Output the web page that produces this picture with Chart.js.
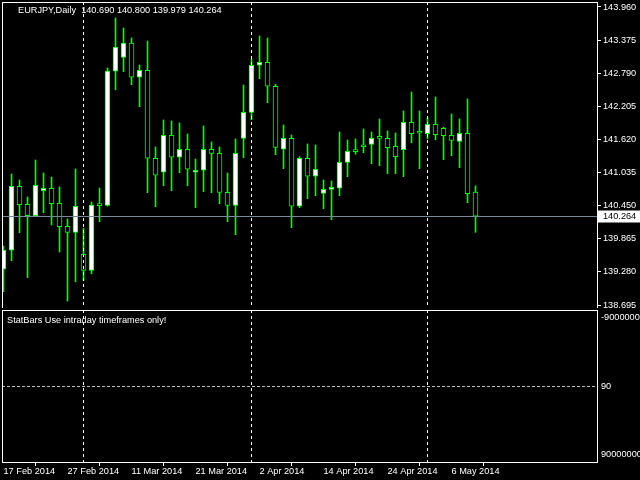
<!DOCTYPE html>
<html lang="en">
  <head>
    <meta charset="UTF-8" />
    <title>EURJPY,Daily</title>
    <script src="https://cdn.jsdelivr.net/npm/chart.js"></script>
    <style>
      * {
        margin: 0;
        padding: 0;
        box-sizing: border-box;
      }
      body {
        background: #000;
        width: 640px;
        height: 480px;
        overflow: hidden;
        position: relative;
      }
      #priceChart {
        position: absolute;
        left: 0;
        top: 0;
      }
      #subChart {
        position: absolute;
        left: 0;
        top: 308px;
      }
    </style>
  </head>
  <body>
    <canvas id="priceChart" width="640" height="310"></canvas>
    <canvas id="subChart" width="640" height="172"></canvas>

    <script>
      // daily bars, 17 Feb 2014 .. 9 May 2014
      const dates = [
        "17 Feb 2014", "18 Feb 2014", "19 Feb 2014", "20 Feb 2014", "21 Feb 2014",
        "24 Feb 2014", "25 Feb 2014", "26 Feb 2014", "27 Feb 2014", "28 Feb 2014",
        "3 Mar 2014", "4 Mar 2014", "5 Mar 2014", "6 Mar 2014", "7 Mar 2014",
        "10 Mar 2014", "11 Mar 2014", "12 Mar 2014", "13 Mar 2014", "14 Mar 2014",
        "17 Mar 2014", "18 Mar 2014", "19 Mar 2014", "20 Mar 2014", "21 Mar 2014",
        "24 Mar 2014", "25 Mar 2014", "26 Mar 2014", "27 Mar 2014", "28 Mar 2014",
        "31 Mar 2014", "1 Apr 2014", "2 Apr 2014", "3 Apr 2014", "4 Apr 2014",
        "7 Apr 2014", "8 Apr 2014", "9 Apr 2014", "10 Apr 2014", "11 Apr 2014",
        "14 Apr 2014", "15 Apr 2014", "16 Apr 2014", "17 Apr 2014", "18 Apr 2014",
        "21 Apr 2014", "22 Apr 2014", "23 Apr 2014", "24 Apr 2014", "25 Apr 2014",
        "28 Apr 2014", "29 Apr 2014", "30 Apr 2014", "1 May 2014", "2 May 2014",
        "5 May 2014", "6 May 2014", "7 May 2014", "8 May 2014", "9 May 2014",
      ];
      const opens = [
        139.326, 139.662, 140.792, 140.474, 140.273, 140.714, 140.757, 140.492, 140.085, 139.979,
        139.591, 139.308, 140.456, 140.456, 142.824, 143.071, 143.324, 142.718, 142.842, 141.287,
        141.040, 141.693, 141.305, 141.446, 141.040, 141.075, 141.446, 141.375, 140.686, 140.453,
        141.637, 142.096, 142.930, 142.983, 142.559, 141.446, 141.640, 140.439, 141.287, 140.969,
        140.668, 140.739, 140.757, 141.216, 141.407, 141.492, 141.534, 141.640, 141.640, 141.499,
        141.439, 141.923, 141.729, 141.721, 141.888, 141.817, 141.693, 141.587, 141.729, 140.690,
      ];
      const highs = [
        139.737, 141.009, 140.903, 140.603, 141.257, 141.027, 140.956, 140.780, 140.214, 141.098,
        140.050, 140.515, 140.762, 142.882, 143.766, 143.589, 143.412, 142.935, 143.359, 141.487,
        141.964, 141.946, 141.911, 141.716, 141.274, 141.858, 141.575, 141.487, 141.027, 141.628,
        142.582, 143.036, 143.448, 143.412, 142.596, 141.875, 141.699, 141.315, 141.540, 141.522,
        140.903, 140.886, 141.752, 141.610, 141.628, 141.805, 141.752, 141.981, 141.769, 141.734,
        142.123, 142.458, 142.123, 141.999, 142.370, 141.835, 142.070, 141.981, 142.335, 140.800,
      ];
      const lows = [
        138.930, 139.478, 139.972, 139.177, 140.260, 140.326, 140.108, 139.631, 138.766, 139.107,
        139.124, 139.248, 140.167, 140.440, 142.499, 142.817, 142.587, 142.199, 140.679, 140.432,
        140.803, 140.714, 141.032, 140.803, 140.414, 140.697, 140.679, 140.485, 140.167, 139.937,
        141.297, 141.969, 142.693, 142.269, 141.350, 141.103, 140.061, 140.414, 140.573, 140.626,
        140.396, 140.202, 140.626, 140.962, 141.358, 141.386, 141.191, 141.156, 141.015, 141.015,
        140.962, 141.563, 141.103, 141.633, 141.615, 141.262, 141.333, 141.121, 140.502, 139.979,
      ];
      const closes = [
        139.667, 140.792, 140.467, 140.273, 140.810, 140.757, 140.485, 140.078, 139.979, 140.439,
        139.308, 140.462, 140.452, 142.829, 143.253, 143.324, 142.718, 142.842, 141.287, 140.987,
        141.693, 141.305, 141.446, 141.093, 141.075, 141.446, 141.375, 140.686, 140.456, 141.375,
        142.100, 142.930, 142.983, 142.559, 141.478, 141.640, 140.439, 141.287, 140.969, 141.093,
        140.739, 140.774, 141.216, 141.411, 141.405, 141.490, 141.640, 141.640, 141.474, 141.315,
        141.923, 141.721, 141.729, 141.888, 141.704, 141.686, 141.601, 141.729, 140.661, 140.264,
      ];
      const priceTicks = [143.96, 143.375, 142.79, 142.205, 141.62, 141.035, 140.45, 139.865, 139.28, 138.695];
      const separatorDays = ["3 Mar 2014", "1 Apr 2014", "1 May 2014"];
      const subAxisLabels = ["-9000000", "90", "90000000"];
      const symbolTitle = "EURJPY,Daily";
      const subTitle = "StatBars Use intraday timeframes only!";

      const FONT = "'Liberation Sans', Arial, sans-serif";
      const FONT_SIZE = 9.2;
      Chart.defaults.font.family = FONT;
      Chart.defaults.font.size = FONT_SIZE;
      Chart.defaults.color = "#fff";

      const last = closes.length - 1;
      const xRange = { min: -0.1875, max: 74.1875 };

      const wickData = dates.map((d, i) => ({ x: i, y: [lows[i], highs[i]] }));
      const bodyData = dates.map((d, i) => ({ x: i, y: [opens[i], closes[i]] }));
      const bodyFill = dates.map((d, i) => (closes[i] > opens[i] ? "#fff" : "#000"));

      function noAxisPadding(s) {
        s.paddingTop = 0;
        s.paddingBottom = 0;
        s.paddingLeft = 0;
        s.paddingRight = 0;
      }

      function drawSeparators(chart) {
        const { ctx, chartArea: a, scales } = chart;
        ctx.save();
        ctx.strokeStyle = "#fff";
        ctx.lineWidth = 1;
        ctx.setLineDash([3, 3]);
        separatorDays.forEach((d) => {
          const x = Math.floor(scales.x.getPixelForValue(dates.indexOf(d))) + 0.5;
          ctx.beginPath();
          ctx.moveTo(x, a.top);
          ctx.lineTo(x, a.bottom);
          ctx.stroke();
        });
        ctx.restore();
      }

      const pricePane = {
        id: "pricePane",
        beforeDraw(chart) {
          chart.ctx.fillStyle = "#000";
          chart.ctx.fillRect(0, 0, chart.width, chart.height);
        },
        afterDatasetsDraw(chart) {
          const { ctx, chartArea: a, scales } = chart;
          drawSeparators(chart);
          // last price line
          const y = Math.floor(scales.y.getPixelForValue(closes[last])) + 0.5;
          ctx.save();
          ctx.strokeStyle = "#778899";
          ctx.lineWidth = 1;
          ctx.beginPath();
          ctx.moveTo(a.left, y);
          ctx.lineTo(a.right, y);
          ctx.stroke();
          ctx.restore();
        },
        afterDraw(chart) {
          const { ctx, chartArea: a, scales } = chart;
          ctx.save();
          ctx.strokeStyle = "#fff";
          ctx.lineWidth = 1;
          ctx.strokeRect(a.left + 0.5, a.top + 0.5, a.right - a.left, a.bottom - a.top);
          ctx.font = FONT_SIZE + "px " + FONT;
          ctx.textBaseline = "middle";
          ctx.fillStyle = "#fff";
          const title =
            symbolTitle + "  " +
            [opens[last], highs[last], lows[last], closes[last]].map((v) => v.toFixed(3)).join(" ");
          ctx.fillText(title, 18, 10);
          // last price tag
          const y = Math.floor(scales.y.getPixelForValue(closes[last])) + 0.5;
          ctx.fillRect(a.right + 1, y - 6, chart.width - a.right - 1, 12);
          ctx.fillStyle = "#000";
          ctx.fillText(closes[last].toFixed(3), a.right + 6, y);
          ctx.restore();
        },
      };

      new Chart(document.getElementById("priceChart"), {
        type: "bar",
        data: {
          datasets: [
            {
              data: bodyData,
              backgroundColor: bodyFill,
              borderColor: "#00ff00",
              borderWidth: 1,
              borderSkipped: false,
              barThickness: 5,
              minBarLength: 2,
              grouped: false,
            },
            {
              data: wickData,
              backgroundColor: "#00ff00",
              borderWidth: 0,
              barThickness: 1,
              grouped: false,
            },
          ],
        },
        options: {
          responsive: false,
          animation: false,
          events: [],
          layout: { padding: { left: 2, top: 2, right: 0, bottom: 2 } },
          plugins: { legend: { display: false }, tooltip: { enabled: false } },
          scales: {
            x: { type: "linear", min: xRange.min, max: xRange.max, offset: false, display: false },
            y: {
              position: "right",
              min: 138.642,
              max: 144.048,
              afterBuildTicks: (s) => {
                s.ticks = priceTicks.map((v) => ({ value: v }));
              },
              afterFit: (s) => {
                s.width = 43;
                noAxisPadding(s);
              },
              ticks: { color: "#fff", padding: 2, callback: (v) => Number(v).toFixed(3) },
              grid: { drawOnChartArea: false, color: "#fff", tickLength: 4 },
              border: { display: false },
            },
          },
        },
        plugins: [pricePane],
      });

      const subPane = {
        id: "subPane",
        beforeDraw(chart) {
          chart.ctx.fillStyle = "#000";
          chart.ctx.fillRect(0, 0, chart.width, chart.height);
        },
        afterDraw(chart) {
          const { ctx, chartArea: a, scales } = chart;
          drawSeparators(chart);
          ctx.save();
          ctx.strokeStyle = "#c0c0c0";
          ctx.lineWidth = 1;
          ctx.setLineDash([3, 2]);
          const y = Math.floor(scales.y.getPixelForValue(10)) + 0.5;
          ctx.beginPath();
          ctx.moveTo(a.left, y);
          ctx.lineTo(a.right, y);
          ctx.stroke();
          ctx.setLineDash([]);
          ctx.strokeStyle = "#fff";
          ctx.strokeRect(a.left + 0.5, a.top + 0.5, a.right - a.left, a.bottom - a.top);
          ctx.fillStyle = "#fff";
          ctx.font = FONT_SIZE + "px " + FONT;
          ctx.textBaseline = "middle";
          ctx.fillText(subTitle, 7, a.top + 10);
          ctx.restore();
        },
      };

      new Chart(document.getElementById("subChart"), {
        type: "bar",
        data: { datasets: [] },
        options: {
          responsive: false,
          animation: false,
          events: [],
          layout: { padding: { left: 2, top: 2, right: 0, bottom: 0 } },
          plugins: { legend: { display: false }, tooltip: { enabled: false } },
          scales: {
            x: {
              type: "linear",
              min: xRange.min,
              max: xRange.max,
              offset: false,
              afterBuildTicks: (s) => {
                s.ticks = dates.map((d, i) => ({ value: i })).filter((t) => t.value % 8 === 0);
              },
              afterFit: (s) => {
                s.height = 18;
                noAxisPadding(s);
              },
              ticks: {
                color: "#fff",
                align: "start",
                padding: 0,
                maxRotation: 0,
                autoSkip: false,
                callback: (v) => dates[v],
              },
              grid: { drawOnChartArea: false, color: "#fff", tickLength: 4 },
              border: { display: false },
            },
            y: {
              position: "right",
              min: 0,
              max: 20,
              reverse: true,
              afterBuildTicks: (s) => {
                s.ticks = [1, 10, 19].map((v) => ({ value: v }));
              },
              afterFit: (s) => {
                s.width = 43;
                noAxisPadding(s);
              },
              ticks: {
                color: "#fff",
                padding: 4,
                callback: (v, i) => subAxisLabels[i],
              },
              grid: { display: false, drawTicks: false },
              border: { display: false },
            },
          },
        },
        plugins: [subPane],
      });
    </script>
  </body>
</html>
